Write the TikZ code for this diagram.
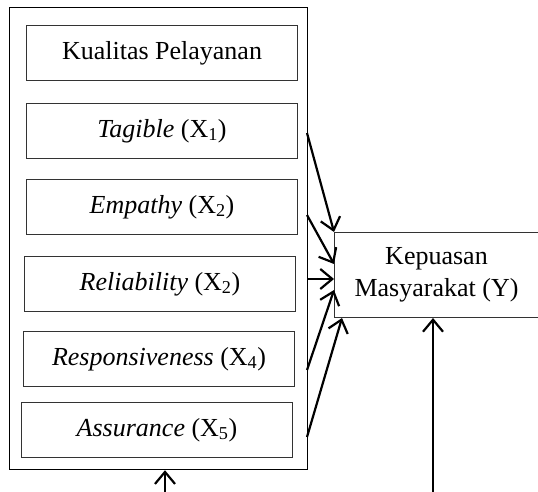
\documentclass[tikz,border=0pt]{standalone}
\usepackage{fontspec}
\setmainfont{Liberation Serif}
\usetikzlibrary{arrows.meta}
\begin{document}
\begin{tikzpicture}[x=1pt,y=-1pt,
  outerbox/.style={draw=black,line width=1.2pt,anchor=north west,inner sep=0pt},
  itembox/.style={draw=black!80,line width=1pt,anchor=north west,minimum width=271pt,minimum height=55pt,inner sep=0pt,font=\fontsize{26}{30}\selectfont},
  ybox/.style={draw=black!80,line width=1pt,anchor=north west,minimum width=204pt,minimum height=85pt,inner sep=0pt,align=center,font=\fontsize{26}{32}\selectfont},
  conn/.style={line width=2.2pt,-{Straight Barb[length=12pt,width=20pt]}}]
\useasboundingbox (0,0) rectangle (538,492);
\node[outerbox,minimum width=298pt,minimum height=462pt] (outer) at (9,7) {};
\node[itembox] (kp) at (26,25) {Kualitas Pelayanan};
\node[itembox] (x1) at (26,103) {\textit{Tagible} (X\textsubscript{1})};
\node[itembox] (x2) at (26,179) {\textit{Empathy} (X\textsubscript{2})};
\node[itembox] (x3) at (24,256) {\textit{Reliability} (X\textsubscript{2})};
\node[itembox] (x4) at (23,331) {\textit{Responsiveness} (X\textsubscript{4})};
\node[itembox] (x5) at (21,402) {\textit{Assurance} (X\textsubscript{5})};
\node[ybox] (y) at (334,232) {Kepuasan\\Masyarakat (Y)};
\coordinate (s1) at (307,133);
\coordinate (s2) at (307,215);
\coordinate (s3) at (307,279);
\coordinate (s4) at (307,370);
\coordinate (s5) at (307,437);
\coordinate (e2) at (334,264);
\coordinate (e3) at (334,279);
\coordinate (e4) at (334,290);
\coordinate (e5) at (342,318);
\coordinate (b1) at (165,492);
\coordinate (b2) at (433,492);
\draw[conn] (s1) -- (y.north west);
\draw[conn] (s2) -- (e2);
\draw[conn] (s3) -- (e3);
\draw[conn] (s4) -- (e4);
\draw[conn] (s5) -- (e5);
\draw[conn] (b1) -- (b1 |- outer.south);
\draw[conn] (b2) -- (b2 |- y.south);
\end{tikzpicture}
\end{document}
